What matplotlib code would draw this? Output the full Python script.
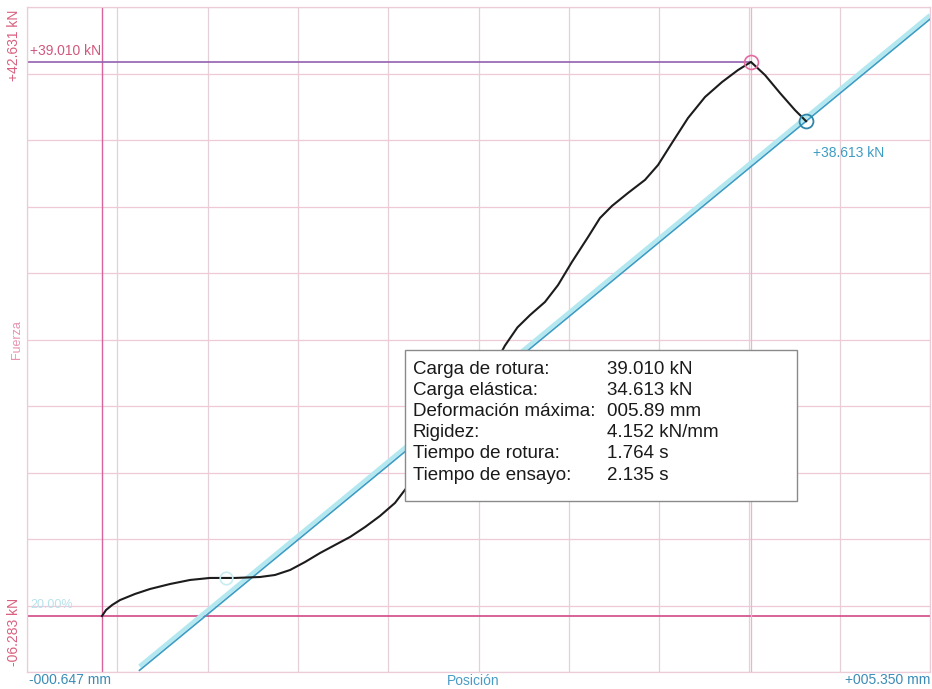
import numpy as np
import matplotlib
matplotlib.use("Agg")
import matplotlib.pyplot as plt
from matplotlib.patches import Rectangle

plt.rcParams['font.family'] = ['Liberation Sans', 'DejaVu Sans']

# Load curve: position (mm) and force (kN)
posicion_mm = [-0.149, -0.122, -0.082, -0.029, 0.070, 0.170, 0.303, 0.436, 0.568,
               0.734, 0.900, 1.000, 1.100, 1.199, 1.299, 1.399, 1.498, 1.598,
               1.697, 1.797, 1.963, 2.162, 2.400, 2.527, 2.610, 2.694, 2.793,
               2.880, 2.972, 3.079, 3.158, 3.238, 3.344, 3.457, 3.544, 3.636,
               3.743, 3.856, 3.969, 4.075, 4.161, 4.254, 4.354, 4.453, 4.527]
fuerza_kn = [-2.125, -1.68, -1.31, -0.94, -0.49, -0.12, 0.25, 0.55, 0.70,
             0.70, 0.77, 0.92, 1.29, 1.88, 2.55, 3.15, 3.74, 4.48,
             5.30, 6.27, 8.71, 11.68, 15.30, 17.95, 19.30, 20.22, 21.19,
             22.45, 24.16, 26.01, 27.42, 28.32, 29.28, 30.25, 31.36, 32.99,
             34.85, 36.41, 37.52, 38.41, 39.010, 38.04, 36.70, 35.44, 34.613]

# Elastic (stiffness) line
elastica_x = [0.10, 5.35]
elastica_y = [-6.16, 42.19]

# Reference points
origen = (-0.149, -2.125)
rotura = (4.161, 39.010)
punto_elastico = (4.527, 34.613)
inicio_ajuste = (0.675, 0.70)

# View range
x_min, x_max = -0.647, 5.350
y_min, y_max = -6.283, 43.09

# Result summary
etiquetas = ["Carga de rotura:", "Carga elástica:", "Deformación máxima:",
             "Rigidez:", "Tiempo de rotura:", "Tiempo de ensayo:"]
valores = ["39.010 kN", "34.613 kN", "005.89 mm", "4.152 kN/mm", "1.764 s", "2.135 s"]

W, H = 932, 689
fig = plt.figure(figsize=(W / 100, H / 100), dpi=100)
ax = fig.add_axes([27 / W, 1 - 672 / H, 903 / W, 665 / H])
ax.set_xlim(x_min, x_max)
ax.set_ylim(y_min, y_max)

ax.set_xticks(np.linspace(x_min, x_max, 11))
ax.set_yticks(np.linspace(y_min, y_max, 11))
ax.tick_params(length=0, labelbottom=False, labelleft=False)
ax.grid(True, axis='x', color='#e4d0d9', lw=0.9)
ax.grid(True, axis='y', color='#efc9d8', lw=0.9)
for s in ax.spines.values():
    s.set_color('#ecccd9')
    s.set_linewidth(0.9)

# Reference lines
ax.axhline(origen[1], color='#d24a86', lw=1.2, zorder=2)
ax.axvline(origen[0], color='#d9649a', lw=1.0, zorder=2)
ax.axvline(rotura[0], color='#eeb2cb', lw=0.9, zorder=2)
ax.plot([x_min, rotura[0]], [rotura[1], rotura[1]], color='#9460b0', lw=1.2, zorder=2)

# Elastic line (light halo + line)
ax.plot(elastica_x, np.array(elastica_y) + 0.3, color='#b4e8f0', lw=3.0, zorder=3,
        solid_capstyle='butt')
ax.plot(elastica_x, elastica_y, color='#3b9cc4', lw=1.2, zorder=4)

# Load curve
ax.plot(posicion_mm, fuerza_kn, color='#1c1c1c', lw=1.5, zorder=5)

# Markers
ax.plot(*inicio_ajuste, 'o', ms=9, mfc='none', mec='#c8ecef', mew=1.2, zorder=6)
ax.plot(*rotura, 'o', ms=10, mfc='none', mec='#e46aa0', mew=1.2, zorder=6)
ax.plot(*punto_elastico, 'o', ms=10, mfc='none', mec='#2f86a8', mew=1.3, zorder=6)

# Annotations in data space
ax.annotate("+39.010 kN", xy=(x_min, rotura[1]), xytext=(2, 3), textcoords='offset points',
            ha='left', va='bottom', fontsize=10, color='#d0587c')
ax.annotate("+38.613 kN", xy=punto_elastico, xytext=(5, -23), textcoords='offset points',
            ha='left', va='center', fontsize=10, color='#3d9cc4')
ax.text(x_min + 0.02, origen[1] + 0.85, "20.00%", fontsize=9, color='#b8e2ea',
        ha='left', va='center')

# Axis extreme labels
fig.text(14 / W, 1 - 45 / H, "+42.631 kN", rotation=90, ha='center', va='center',
         fontsize=10, color='#d9607e')
fig.text(14 / W, 1 - 632 / H, "-06.283 kN", rotation=90, ha='center', va='center',
         fontsize=10, color='#d9607e')
fig.text(17 / W, 1 - 340 / H, "Fuerza", rotation=90, ha='center', va='center',
         fontsize=9, color='#e892b0')
fig.text(29 / W, 1 - 680 / H, "-000.647 mm", ha='left', va='center',
         fontsize=10, color='#3a8cb6')
fig.text(473 / W, 1 - 681 / H, "Posición", ha='center', va='center',
         fontsize=10, color='#4a9cc4')
fig.text(930 / W, 1 - 680 / H, "+005.350 mm", ha='right', va='center',
         fontsize=10, color='#3a8cb6')

# Summary box
fig.add_artist(Rectangle((405 / W, 1 - 501 / H), 392 / W, 151 / H,
                         transform=fig.transFigure, fc='white', ec='#8a8a8a',
                         lw=1.0, zorder=10))
for i, (lab, val) in enumerate(zip(etiquetas, valores)):
    yy = 1 - (370 + 21 * i) / H
    fig.text(413 / W, yy, lab, ha='left', va='center', fontsize=13.5, color='#1a1a1a', zorder=11)
    fig.text(607 / W, yy, val, ha='left', va='center', fontsize=13.5, color='#1a1a1a', zorder=11)

fig.savefig("out.png", dpi=100)
